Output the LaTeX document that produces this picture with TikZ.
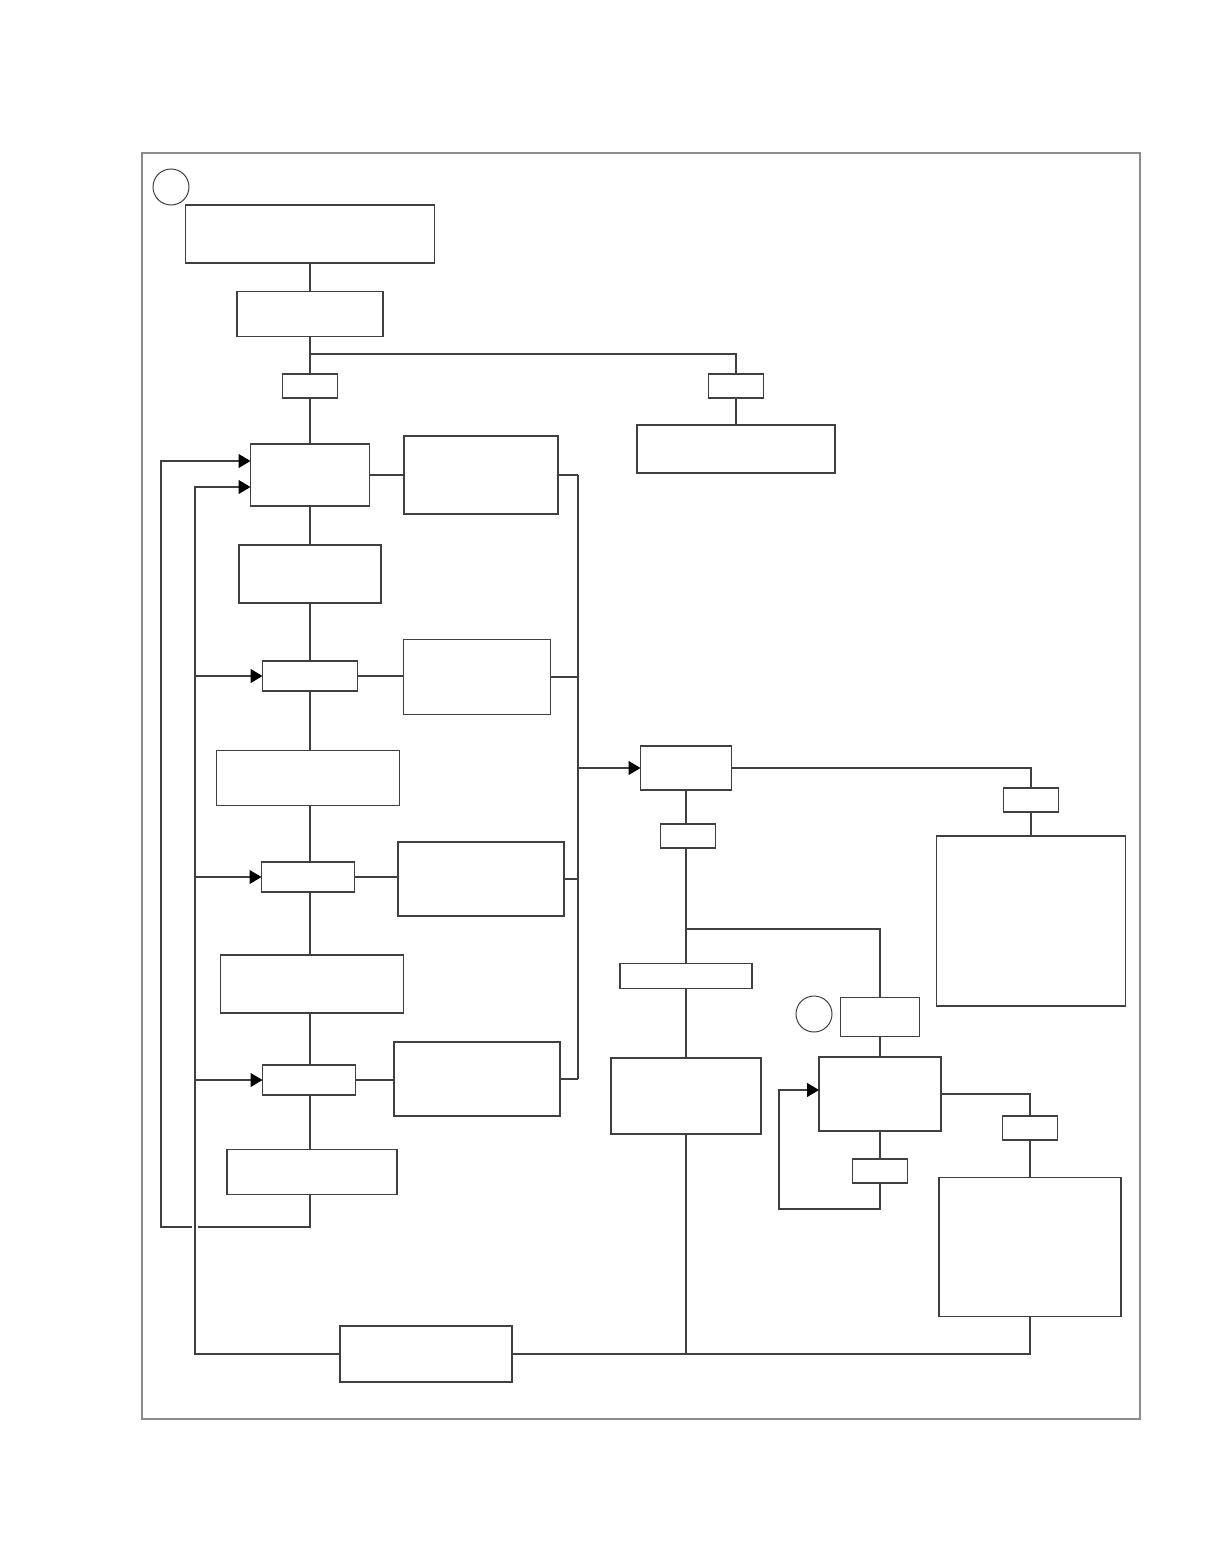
\documentclass[tikz,border=0pt]{standalone}
\usepackage{tikz}
\usetikzlibrary{arrows.meta}

\tikzset{
  box/.style={draw=black!75, line width=1.1pt, inner sep=0pt, outer sep=0pt},
  tag/.style={box, minimum width=55pt, minimum height=24pt},
  gate/.style={box, minimum width=93pt, minimum height=30pt},
  circ/.style={draw=black!75, line width=1pt, circle, minimum size=36pt, inner sep=0pt},
  jump/.style={preaction={draw=white, line width=6pt}}
}

\begin{document}
\begin{tikzpicture}[x=1pt, y=-1pt, line width=1.1pt, draw=black!75,
    >={Triangle[length=12pt, width=14pt, color=black]}]
    \useasboundingbox (0,0) rectangle (1210,1568);
    \draw[black!45] (142,153) rectangle (1140,1419);

    % left column
    \node (n1) [circ] at (171,187) {};
    \node (A) [box, minimum width=249pt, minimum height=58pt] at (310,234) {};
    \node (B) [box, minimum width=146pt, minimum height=45pt] at (310,314) {};
    \node (C) [tag] at (310,386) {};
    \node (D) [tag] at (736,386) {};
    \node (E) [box, minimum width=198pt, minimum height=48pt] at (736,449) {};
    \node (F) [box, minimum width=119pt, minimum height=62pt] at (310,475) {};
    \node (G) [box, minimum width=154pt, minimum height=78pt] at (481,475) {};
    \node (H) [box, minimum width=142pt, minimum height=58pt] at (310,574) {};
    \node (I) [gate, minimum width=95pt] at (310,676) {};
    \node (J) [box, minimum width=147pt, minimum height=75pt] at (477,677) {};
    \node (K) [box, minimum width=183pt, minimum height=55pt] at (308,778) {};
    \node (L) [gate] at (308,877) {};
    \node (M) [box, minimum width=166pt, minimum height=74pt] at (481,879) {};
    \node (N) [box, minimum width=183pt, minimum height=58pt] at (312,984) {};
    \node (O) [gate] at (309,1080) {};
    \node (P) [box, minimum width=166pt, minimum height=74pt] at (477,1079) {};
    \node (Q) [box, minimum width=170pt, minimum height=45pt] at (312,1172) {};
    \node (R) [box, minimum width=172pt, minimum height=56pt] at (426,1354) {};

    % right part
    \node (S) [box, minimum width=91pt, minimum height=44pt] at (686,768) {};
    \node (T) [tag] at (1031,800) {};
    \node (U) [box, minimum width=189pt, minimum height=170pt] at (1031,921) {};
    \node (V) [tag] at (688,836) {};
    \node (W) [box, minimum width=132pt, minimum height=25pt] at (686,976) {};
    \node (Y) [box, minimum width=150pt, minimum height=76pt] at (686,1096) {};
    \node (n2) [circ] at (814,1014) {};
    \node (X) [box, minimum width=79pt, minimum height=39pt] at (880,1017) {};
    \node (Z) [box, minimum width=122pt, minimum height=74pt] at (880,1094) {};
    \node (AA) [tag] at (880,1171) {};
    \node (AB) [tag] at (1030,1128) {};
    \node (AC) [box, minimum width=182pt, minimum height=139pt] at (1030,1247) {};

    \coordinate (b1) at (310,354);
    \coordinate (q1) at (161,1227);
    \coordinate (bus) at (195,487);
    \coordinate (c1) at (578,475);
    \coordinate (c2) at (578,1079);
    \coordinate (v1) at (686,929);
    \coordinate (z1) at (779,1209);

    % main column
    \draw (A) -- (A |- B.north);
    \draw (B.south) -- (B.south |- C.north);
    \draw (b1) -| (D);
    \draw (D) -- (E);
    \draw (C) -- (C |- F.north);
    \draw (F.south) -- (F.south |- H.north);
    \draw (H.south) -- (H.south |- I.north);
    \draw (I.south) -- (I.south -| H) -- (H |- K.north);
    \draw (K.south -| H) -- (H |- L.north);
    \draw (L.south -| H) -- (H |- N.north);
    \draw (N.south -| H) -- (H |- O.north);
    \draw (O.south -| H) -- (H |- Q.north);

    % side boxes and collector
    \draw (F) -- (G);
    \draw (I.east) -- (I.east -| J.west);
    \draw (L.east) -- (L.east -| M.west);
    \draw (O.east) -- (O.east -| P.west);
    \draw (G.east) -- (c1);
    \draw (J.east) -- (J.east -| c1);
    \draw (M.east) -- (M.east -| c1);
    \draw (P.east) -- (c2);
    \draw (c1) -- (c2);
    \draw[->] (S.west -| c1) -- (S.west);

    % feedback loops
    \draw[->] (Q.south -| H) |- (q1) |- ([yshift=14pt]F.west);
    \draw[jump] (bus) -- (bus |- R.west);
    \draw[->] (R.west) -| (bus) -- ([yshift=-12pt]F.west);
    \draw[->] (I.west -| bus) -- (I.west);
    \draw[->] (L.west -| bus) -- (L.west);
    \draw[->] (O.west -| bus) -- (O.west);

    % right column
    \draw (S) -| (T);
    \draw (T) -- (U);
    \draw (S) -- (S |- V.north);
    \draw (V.south -| S) -- (W);
    \draw (v1) -| (X);
    \draw (W) -- (Y);
    \draw (Y) -- (Y |- R);
    \draw (R.east) -| (AC);
    \draw (X) -- (Z);
    \draw (Z) -- (AA);
    \draw[->] (AA.south) |- (z1) |- ([yshift=4pt]Z.west);
    \draw (Z) -| (AB);
    \draw (AB) -- (AC);
\end{tikzpicture}
\end{document}
